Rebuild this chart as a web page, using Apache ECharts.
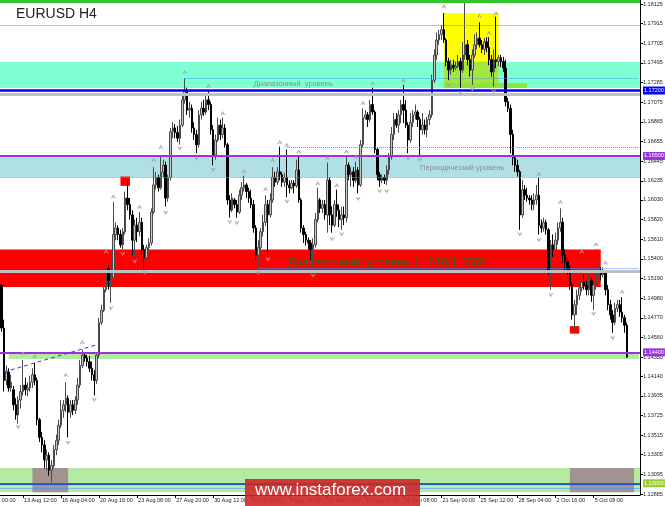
<!DOCTYPE html>
<html><head><meta charset="utf-8">
<script src="https://cdn.jsdelivr.net/npm/echarts@6/dist/echarts.min.js"></script>
<style>html,body{margin:0;padding:0;background:#fff}#c{width:665px;height:506px}</style>
</head><body><div id="c"></div>
<script>
// ---------- data (EURUSD H4, 10 Aug 2018 00:00 .. 9 Oct 2018 12:00) ----------
// rows: [open, close, low, high]
const ohlc = [
[1.1532,1.1512,1.1510,1.1537],[1.1512,1.1466,1.1462,1.1513],[1.1466,1.1410,1.1398,1.1475],[1.1410,1.1419,1.1405,1.1426],
[1.1419,1.1402,1.1398,1.1423],[1.1402,1.1408,1.1398,1.1416],[1.1400,1.1384,1.1378,1.1404],[1.1384,1.1373,1.1368,1.1391],
[1.1373,1.1389,1.1364,1.1393],[1.1389,1.1398,1.1380,1.1405],[1.1398,1.1405,1.1394,1.1432],[1.1405,1.1400,1.1394,1.1413],
[1.1400,1.1402,1.1393,1.1408],[1.1402,1.1408,1.1398,1.1415],[1.1408,1.1416,1.1402,1.1423],[1.1416,1.1410,1.1405,1.1429],
[1.1410,1.1368,1.1362,1.1413],[1.1368,1.1349,1.1344,1.1370],[1.1349,1.1341,1.1333,1.1355],[1.1341,1.1325,1.1316,1.1346],
[1.1325,1.1330,1.1314,1.1336],[1.1330,1.1314,1.1308,1.1333],[1.1314,1.1319,1.1301,1.1325],[1.1319,1.1336,1.1316,1.1341],
[1.1336,1.1346,1.1330,1.1352],[1.1346,1.1362,1.1341,1.1368],[1.1362,1.1378,1.1359,1.1389],[1.1378,1.1384,1.1370,1.1389],
[1.1384,1.1391,1.1376,1.1408],[1.1391,1.1376,1.1349,1.1394],[1.1376,1.1384,1.1370,1.1389],[1.1384,1.1378,1.1373,1.1389],
[1.1378,1.1389,1.1374,1.1393],[1.1389,1.1405,1.1384,1.1413],[1.1405,1.1426,1.1402,1.1432],[1.1426,1.1437,1.1423,1.1443],
[1.1437,1.1434,1.1430,1.1440],[1.1434,1.1430,1.1425,1.1437],[1.1430,1.1423,1.1419,1.1436],[1.1423,1.1416,1.1410,1.1430],
[1.1416,1.1410,1.1394,1.1421],[1.1410,1.1437,1.1406,1.1440],[1.1437,1.1472,1.1434,1.1477],[1.1472,1.1485,1.1469,1.1491],
[1.1485,1.1507,1.1483,1.1515],[1.1507,1.1530,1.1504,1.1542],[1.1530,1.1517,1.1507,1.1533],[1.1517,1.1520,1.1493,1.1528],
[1.1520,1.1566,1.1515,1.1601],[1.1566,1.1573,1.1560,1.1579],[1.1573,1.1566,1.1560,1.1576],[1.1566,1.1555,1.1552,1.1571],
[1.1555,1.1569,1.1550,1.1573],[1.1569,1.1605,1.1566,1.1612],[1.1605,1.1598,1.1592,1.1624],[1.1598,1.1587,1.1582,1.1605],
[1.1587,1.1560,1.1544,1.1592],[1.1560,1.1576,1.1541,1.1582],[1.1576,1.1569,1.1558,1.1584],[1.1569,1.1579,1.1564,1.1590],
[1.1579,1.1550,1.1544,1.1584],[1.1550,1.1541,1.1530,1.1555],[1.1541,1.1552,1.1537,1.1555],[1.1552,1.1557,1.1547,1.1562],
[1.1557,1.1590,1.1554,1.1594],[1.1590,1.1619,1.1588,1.1638],[1.1619,1.1627,1.1614,1.1633],[1.1627,1.1616,1.1612,1.1630],
[1.1616,1.1633,1.1614,1.1651],[1.1633,1.1640,1.1627,1.1646],[1.1640,1.1605,1.1596,1.1644],[1.1605,1.1627,1.1601,1.1630],
[1.1627,1.1676,1.1624,1.1680],[1.1676,1.1680,1.1669,1.1686],[1.1680,1.1675,1.1669,1.1684],[1.1675,1.1669,1.1665,1.1682],
[1.1669,1.1683,1.1662,1.1689],[1.1683,1.1710,1.1681,1.1715],[1.1710,1.1719,1.1706,1.1733],[1.1719,1.1699,1.1694,1.1723],
[1.1699,1.1701,1.1691,1.1708],[1.1701,1.1680,1.1675,1.1705],[1.1680,1.1673,1.1667,1.1686],[1.1673,1.1662,1.1653,1.1678],
[1.1662,1.1694,1.1659,1.1699],[1.1694,1.1701,1.1689,1.1708],[1.1701,1.1697,1.1693,1.1710],[1.1697,1.1710,1.1694,1.1715],
[1.1710,1.1705,1.1699,1.1719],[1.1705,1.1678,1.1673,1.1708],[1.1678,1.1651,1.1640,1.1683],[1.1651,1.1667,1.1646,1.1673],
[1.1667,1.1683,1.1665,1.1691],[1.1683,1.1673,1.1667,1.1689],[1.1673,1.1680,1.1669,1.1691],[1.1680,1.1662,1.1659,1.1684],
[1.1662,1.1603,1.1598,1.1664],[1.1603,1.1592,1.1584,1.1608],[1.1592,1.1605,1.1590,1.1610],[1.1603,1.1598,1.1594,1.1605],
[1.1598,1.1590,1.1584,1.1603],[1.1590,1.1608,1.1588,1.1614],[1.1608,1.1616,1.1603,1.1622],[1.1616,1.1619,1.1612,1.1629],
[1.1619,1.1612,1.1605,1.1621],[1.1612,1.1605,1.1600,1.1616],[1.1605,1.1598,1.1594,1.1614],[1.1598,1.1573,1.1568,1.1603],
[1.1573,1.1544,1.1539,1.1576],[1.1544,1.1552,1.1531,1.1560],[1.1552,1.1569,1.1547,1.1573],[1.1569,1.1579,1.1564,1.1587],
[1.1579,1.1598,1.1575,1.1608],[1.1598,1.1587,1.1544,1.1603],[1.1587,1.1603,1.1584,1.1610],[1.1603,1.1627,1.1600,1.1638],
[1.1627,1.1622,1.1617,1.1633],[1.1622,1.1633,1.1619,1.1638],[1.1633,1.1630,1.1624,1.1660],[1.1630,1.1622,1.1617,1.1633],
[1.1622,1.1627,1.1617,1.1632],[1.1627,1.1619,1.1606,1.1657],[1.1619,1.1616,1.1610,1.1624],[1.1616,1.1621,1.1614,1.1624],
[1.1621,1.1618,1.1610,1.1624],[1.1618,1.1635,1.1616,1.1646],[1.1635,1.1603,1.1600,1.1649],[1.1603,1.1573,1.1568,1.1605],
[1.1573,1.1566,1.1557,1.1576],[1.1566,1.1560,1.1554,1.1569],[1.1560,1.1557,1.1550,1.1563],[1.1557,1.1550,1.1539,1.1560],
[1.1550,1.1555,1.1530,1.1562],[1.1555,1.1582,1.1552,1.1589],[1.1582,1.1603,1.1579,1.1616],[1.1603,1.1594,1.1589,1.1605],
[1.1594,1.1598,1.1589,1.1603],[1.1598,1.1587,1.1582,1.1603],[1.1587,1.1624,1.1568,1.1643],[1.1624,1.1587,1.1576,1.1627],
[1.1587,1.1576,1.1568,1.1596],[1.1576,1.1598,1.1574,1.1603],[1.1598,1.1592,1.1585,1.1614],[1.1592,1.1582,1.1574,1.1598],
[1.1582,1.1587,1.1571,1.1596],[1.1587,1.1584,1.1576,1.1596],[1.1584,1.1640,1.1579,1.1649],[1.1640,1.1630,1.1624,1.1643],
[1.1630,1.1633,1.1617,1.1638],[1.1633,1.1624,1.1617,1.1638],[1.1624,1.1635,1.1621,1.1644],[1.1635,1.1619,1.1610,1.1638],
[1.1619,1.1662,1.1617,1.1667],[1.1662,1.1691,1.1659,1.1701],[1.1691,1.1694,1.1689,1.1699],[1.1694,1.1689,1.1681,1.1697],
[1.1689,1.1705,1.1686,1.1710],[1.1705,1.1697,1.1694,1.1723],[1.1697,1.1657,1.1653,1.1699],[1.1657,1.1630,1.1624,1.1659],
[1.1630,1.1624,1.1617,1.1633],[1.1624,1.1627,1.1621,1.1630],[1.1627,1.1624,1.1620,1.1630],[1.1624,1.1635,1.1619,1.1640],
[1.1635,1.1649,1.1630,1.1653],[1.1649,1.1673,1.1646,1.1681],[1.1673,1.1689,1.1667,1.1696],[1.1689,1.1683,1.1680,1.1696],
[1.1683,1.1694,1.1675,1.1699],[1.1694,1.1705,1.1685,1.1710],[1.1705,1.1699,1.1685,1.1726],[1.1699,1.1683,1.1680,1.1710],
[1.1683,1.1667,1.1653,1.1686],[1.1667,1.1686,1.1664,1.1696],[1.1686,1.1694,1.1681,1.1699],[1.1694,1.1697,1.1689,1.1705],
[1.1697,1.1689,1.1681,1.1699],[1.1689,1.1678,1.1651,1.1692],[1.1678,1.1683,1.1673,1.1696],[1.1683,1.1678,1.1673,1.1689],
[1.1678,1.1689,1.1670,1.1692],[1.1689,1.1694,1.1683,1.1699],[1.1694,1.1731,1.1691,1.1737],[1.1731,1.1758,1.1728,1.1764],
[1.1758,1.1774,1.1753,1.1782],[1.1774,1.1780,1.1769,1.1785],[1.1780,1.1785,1.1774,1.1790],[1.1785,1.1774,1.1771,1.1803],
[1.1774,1.1751,1.1746,1.1776],[1.1751,1.1742,1.1731,1.1755],[1.1742,1.1747,1.1737,1.1753],[1.1747,1.1744,1.1740,1.1753],
[1.1744,1.1746,1.1742,1.1751],[1.1746,1.1751,1.1744,1.1758],[1.1751,1.1742,1.1723,1.1755],[1.1742,1.1758,1.1739,1.1772],
[1.1758,1.1769,1.1753,1.1816],[1.1769,1.1753,1.1747,1.1774],[1.1753,1.1742,1.1735,1.1758],[1.1742,1.1758,1.1726,1.1764],
[1.1758,1.1769,1.1755,1.1780],[1.1769,1.1776,1.1764,1.1782],[1.1776,1.1769,1.1766,1.1793],[1.1769,1.1764,1.1760,1.1774],
[1.1764,1.1772,1.1758,1.1776],[1.1772,1.1766,1.1761,1.1777],[1.1766,1.1753,1.1747,1.1777],[1.1753,1.1740,1.1735,1.1758],
[1.1740,1.1753,1.1724,1.1764],[1.1753,1.1751,1.1744,1.1799],[1.1751,1.1755,1.1746,1.1758],[1.1755,1.1751,1.1745,1.1758],
[1.1751,1.1744,1.1740,1.1756],[1.1744,1.1708,1.1703,1.1753],[1.1708,1.1701,1.1697,1.1712],[1.1701,1.1673,1.1653,1.1705],
[1.1673,1.1648,1.1640,1.1678],[1.1648,1.1640,1.1633,1.1651],[1.1640,1.1633,1.1628,1.1646],[1.1633,1.1587,1.1571,1.1635],
[1.1587,1.1614,1.1584,1.1624],[1.1614,1.1608,1.1603,1.1619],[1.1608,1.1605,1.1601,1.1616],[1.1605,1.1603,1.1598,1.1608],
[1.1603,1.1598,1.1592,1.1608],[1.1598,1.1603,1.1592,1.1610],[1.1603,1.1608,1.1598,1.1619],[1.1608,1.1576,1.1566,1.1627],
[1.1576,1.1573,1.1568,1.1582],[1.1573,1.1579,1.1569,1.1584],[1.1579,1.1571,1.1566,1.1582],[1.1571,1.1528,1.1523,1.1573],
[1.1528,1.1555,1.1507,1.1560],[1.1555,1.1550,1.1542,1.1566],[1.1550,1.1560,1.1544,1.1568],[1.1560,1.1573,1.1555,1.1579],
[1.1573,1.1579,1.1569,1.1594],[1.1579,1.1544,1.1536,1.1584],[1.1544,1.1537,1.1528,1.1550],[1.1537,1.1528,1.1523,1.1541],
[1.1528,1.1512,1.1507,1.1533],[1.1512,1.1480,1.1475,1.1515],[1.1480,1.1491,1.1464,1.1496],[1.1491,1.1501,1.1480,1.1507],
[1.1501,1.1509,1.1496,1.1515],[1.1509,1.1515,1.1505,1.1542],[1.1515,1.1512,1.1507,1.1523],[1.1512,1.1507,1.1501,1.1517],
[1.1507,1.1517,1.1501,1.1523],[1.1517,1.1501,1.1494,1.1520],[1.1501,1.1512,1.1485,1.1517],[1.1512,1.1526,1.1507,1.1550],
[1.1526,1.1528,1.1521,1.1533],[1.1528,1.1523,1.1517,1.1531],[1.1523,1.1525,1.1520,1.1531],[1.1525,1.1507,1.1501,1.1528],
[1.1507,1.1491,1.1485,1.1512],[1.1491,1.1480,1.1475,1.1496],[1.1480,1.1472,1.1461,1.1485],[1.1472,1.1487,1.1469,1.1493],
[1.1487,1.1491,1.1483,1.1496],[1.1491,1.1483,1.1478,1.1496],[1.1483,1.1477,1.1472,1.1499],[1.1477,1.1469,1.1461,1.1480],
[1.1469,1.1435,1.1434,1.1472]
];
const LEAD = 6;        // bars before the first visible candle (9 Aug)
const TRAIL = 5;       // empty slots after the last candle (chart shift)
const fractalUp = [[10,1.1439],[15,1.1436],[28,1.1416],[35,1.1451],[45,1.1548],[48,1.1607],[59,1.1596],[65,1.1646],[68,1.1660],[78,1.1740],[88,1.1725],[94,1.1696],[103,1.1634],[112,1.1615],[115,1.1646],[118,1.1665],[121,1.1662],[126,1.1655],[134,1.1621],[138,1.1648],[142,1.1619],[146,1.1655],[150,1.1649],[153,1.1707],[157,1.1728],[170,1.1731],[187,1.1810],[202,1.1800],[206,1.1782],[209,1.1803],[227,1.1631],[236,1.1601],[245,1.1548],[251,1.1556],[255,1.1536],[262,1.1505]];
const fractalDown = [[8,1.1360],[29,1.1343],[40,1.1389],[47,1.1487],[52,1.1545],[57,1.1537],[61,1.1525],[70,1.1589],[76,1.1658],[83,1.1647],[90,1.1635],[97,1.1579],[100,1.1578],[109,1.1525],[113,1.1539],[121,1.1601],[132,1.1522],[140,1.1561],[144,1.1566],[151,1.1604],[160,1.1612],[163,1.1612],[172,1.1647],[177,1.1646],[189,1.1726],[194,1.1717],[199,1.1721],[208,1.1719],[219,1.1566],[227,1.1560],[232,1.1501],[250,1.1481],[258,1.1455]];
const yTicks = [1.18125,1.17915,1.17705,1.17495,1.17285,1.17075,1.16865,1.16655,1.16445,1.16235,1.16030,1.15820,1.15610,1.15400,1.15190,1.14980,1.14770,1.14560,1.14350,1.14140,1.13935,1.13725,1.13515,1.13305,1.13095,1.12885];
const yMin = 1.128745, yMax = 1.18168;
const priceTags = [[1.17200,'#0000ff'],[1.16500,'#9933dd'],[1.14400,'#9933dd'],[1.13000,'#9acd32']];

// ---------- categories (MT4 H4 calendar with Sunday 20:00 bar) ----------
const MON = ['Jan','Feb','Mar','Apr','May','Jun','Jul','Aug','Sep','Oct','Nov','Dec'];
const categories = [];
const total = LEAD + ohlc.length + TRAIL;
for (let t = Date.UTC(2018,7,9,0); categories.length < total; t += 4*3600*1000) {
  const d = new Date(t), wd = d.getUTCDay(), h = d.getUTCHours();
  if ((wd >= 1 && wd <= 5) || (wd === 0 && h === 20))
    categories.push(d.getUTCDate()+' '+MON[d.getUTCMonth()]+' '+String(h).padStart(2,'0')+':00');
}
const C = i => categories[i + LEAD];          // data bar index -> category
const LAST = categories[categories.length-1];
const FIRST = categories[0];

const candleData = ohlc.map((r,i) => [C(i), r[0], r[1], r[2], r[3]]);

const band = (y1, y2, color, x1, x2) => [
  Object.assign({yAxis:y1, itemStyle:{color}}, x1 !== undefined ? {xAxis:x1} : {}),
  Object.assign({yAxis:y2}, x2 !== undefined ? {xAxis:x2} : {})
];
const hline = (v, color, width, type, from) => from === undefined
  ? {yAxis:v, lineStyle:{color, width, type}}
  : [{coord:[from, v], lineStyle:{color, width, type}}, {coord:[LAST, v]}];

const chart = echarts.init(document.getElementById('c'), null, {renderer:'canvas'});
const FONT = 'Liberation Sans';
chart.setOption({
  animation:false,
  backgroundColor:'#ffffff',
  textStyle:{fontFamily:FONT},
  grid:{left:-16.27, right:25, top:0, bottom:11, containLabel:false, outerBoundsMode:'none'},
  xAxis:{
    type:'category', data:categories, boundaryGap:true,
    axisLine:{show:true, lineStyle:{color:'#000', width:1}},
    axisTick:{show:true, alignWithLabel:true, length:3, lineStyle:{color:'#000'},
      interval:(idx)=> idx % 16 === 0 && idx <= LEAD + 250},
    axisLabel:{show:true, fontSize:5.5, color:'#222', align:'left', margin:2, padding:[0,0,0,1],
      hideOverlap:false,
      interval:(idx)=> idx % 16 === 0 && idx <= LEAD + 250,
      formatter:(v)=>v},
    splitLine:{show:false}
  },
  yAxis:{
    type:'value', position:'right', min:yMin, max:yMax, scale:true,
    axisLine:{show:true, lineStyle:{color:'#000', width:1}},
    axisTick:{show:true, length:3, customValues:yTicks, lineStyle:{color:'#000'}},
    axisLabel:{show:true, fontSize:5.5, color:'#222', margin:3, customValues:yTicks,
      formatter:(v)=>v.toFixed(5)},
    splitLine:{show:false}
  },
  graphic:{elements:[
    {type:'text', x:16, y:7, z:100, zlevel:1, style:{text:'EURUSD H4', fontSize:14, fontFamily:FONT, fill:'#222', verticalAlign:'top'}},
    {type:'rect', z:100, zlevel:1, shape:{x:245, y:479, width:175, height:27}, style:{fill:'rgba(205,40,40,0.9)'}},
    {type:'text', x:255, y:482, z:101, zlevel:1, style:{text:'www.instaforex.com', fontSize:17, fontFamily:FONT, fill:'#ffffff', verticalAlign:'top'}}
  ]},
  series:[
    { // background zones
      type:'line', data:[], z:1, silent:true,
      markArea:{silent:true, data:[
        band(1.17505, 1.17227, '#7fffd4'),
        band(1.16500, 1.16275, '#b0e0e6'),
        band(1.15500, 1.15100, '#ff0000', FIRST, C(253)),
        band(1.14393, 1.14329, '#b4eba0', C(4), LAST),
        band(1.13163, 1.12903, '#b4eba0'),
        band(1.18030, 1.17510, '#ffff00', C(187), C(210)),
        band(1.17510, 1.17280, '#a2e640', C(187), C(210)),
        band(1.17280, 1.17227, '#86e83a', C(187), C(222)),
        band(1.13163, 1.12903, '#a39390', C(14), C(29)),
        band(1.13163, 1.12903, '#a39390', C(240), categories[LEAD+267]),
        band(1.16280, 1.16180, '#ff0000', C(51), C(55)),
        band(1.14680, 1.14600, '#ff0000', C(240), C(244))
      ]}
    },
    { // horizontal levels
      type:'line', data:[], z:2, silent:true,
      markLine:{silent:true, symbol:'none', precision:5, label:{show:false}, data:[
        hline(1.18150, '#2ec82e', 3, 'solid'),
        hline(1.17900, '#5090ff', 1, 'dotted'),
        hline(1.17326, '#5090ff', 1, 'dotted', C(78)),
        hline(1.17156, '#c0c0c0', 3, 'solid'),
        hline(1.16592, '#5090ff', 1, 'dotted', C(121)),
        hline(1.16275, '#5090ff', 1, 'dotted'),
        hline(1.15300, '#5090ff', 1, 'dotted', C(109)),
        hline(1.15267, '#c0c0c0', 3, 'solid'),
        hline(1.13000, '#2a7f3a', 2, 'solid'),
        hline(1.12985, '#2050c0', 1, 'solid'),
        hline(1.12949, '#5090ff', 1, 'dotted'),
        ...priceTags.map(([v,bg]) => ({yAxis:v,
          lineStyle:{color: bg === '#9acd32' ? 'rgba(0,0,0,0)' : bg, width: bg === '#0000ff' ? 2.5 : 2, type:'solid'},
          label:{show:true, position:'end', distance:3, formatter:v.toFixed(5), backgroundColor:bg,
                 color:'#fff', fontSize:5.5, padding:[1,1,1,1]}}))
      ]}
    },
    {
      type:'candlestick', name:'EURUSD', z:3, data:candleData,
      encode:{x:0, y:[1,2,3,4]},
      barWidth:2,
      itemStyle:{color:'#c8c8c8', color0:'#000000', borderColor:'#4a4a4a', borderColor0:'#000000', borderWidth:1}
    },
    { // trend line
      type:'line', data:[], z:4, silent:true,
      markLine:{silent:true, symbol:'none', precision:5, label:{show:false}, data:[
        [{coord:[C(2),1.14190], lineStyle:{color:'#3333ff', width:1, type:[4,3]}}, {coord:[C(42),1.14489]}]
      ]}
    },
    {
      type:'scatter', z:5, silent:true, symbol:'path://M5,0 L10,8 L7,8 L5,5 L3,8 L0,8 Z', symbolSize:[5,4],
      itemStyle:{color:'#a0a0a0'}, data:fractalUp.map(([i,v])=>[C(i),v])
    },
    {
      type:'scatter', z:5, silent:true, symbol:'path://M5,8 L10,0 L7,0 L5,3 L3,0 L0,0 Z', symbolSize:[5,4],
      itemStyle:{color:'#a0a0a0'}, data:fractalDown.map(([i,v])=>[C(i),v])
    },
    { // text labels of the levels
      type:'line', data:[], z:6, silent:true,
      markPoint:{silent:true, symbol:'circle', symbolSize:0, data:[
        {coord:[C(107),1.1727], label:{show:true, position:'right', distance:0, formatter:'Диапазонный  уровень', fontSize:7.5, color:'#8c8c8c'}},
        {coord:[C(177),1.1637], label:{show:true, position:'right', distance:0, formatter:'Периодический уровень', fontSize:7.5, color:'#8c8c8c'}},
        {coord:[C(121),1.1536], label:{show:true, position:'right', distance:1, formatter:'Диапазонный  уровень 1.1510/1.1550', fontSize:11.5, color:'#2f6b1f'}}
      ]}
    }
  ]
});
</script></body></html>
